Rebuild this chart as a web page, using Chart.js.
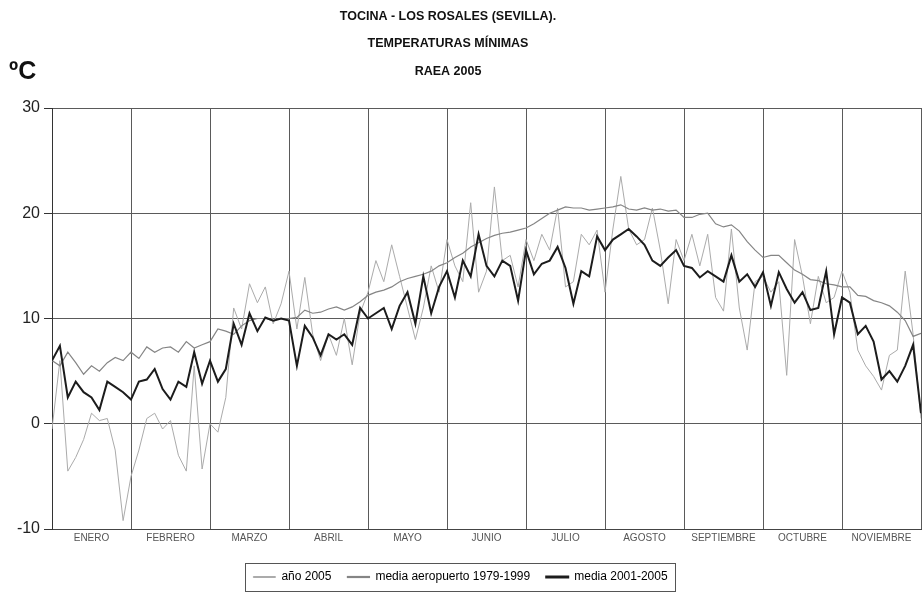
<!DOCTYPE html>
<html lang="es">
<head>
<meta charset="utf-8">
<title>Tocina - Los Rosales. Temperaturas mínimas 2005</title>
<script src="https://cdn.jsdelivr.net/npm/chart.js@4/dist/chart.umd.min.js"></script>
<style>
  html, body { margin: 0; padding: 0; background: #fff; }
  canvas { display: block; }
</style>
</head>
<body>
<canvas id="grafico" width="924" height="601"></canvas>
<script>
// Datos (un valor cada 3 días, 1 enero - 30 noviembre)
const diasPorPunto = 3
const meses = ["ENERO", "FEBRERO", "MARZO", "ABRIL", "MAYO", "JUNIO", "JULIO", "AGOSTO", "SEPTIEMBRE", "OCTUBRE", "NOVIEMBRE"]
const ticksY = [-10, 0, 10, 20, 30]

const anio2005 = [
  -0.5, 6.0, -4.5, -3.2, -1.5, 1.0, 0.3, 0.5, -2.5, -9.2,
  -5.0, -2.5, 0.5, 1.0, -0.5, 0.3, -3.0, -4.5, 5.5, -4.3,
  0.0, -0.8, 2.5, 11.0, 9.0, 13.3, 11.5, 13.0, 9.5, 11.4,
  14.5, 9.0, 13.9, 8.5, 6.0, 8.5, 6.5, 10.0, 5.6, 10.5,
  12.5, 15.5, 13.5, 17.0, 14.0, 11.0, 8.0, 11.0, 15.0, 12.5,
  17.5, 15.0, 13.5, 21.0, 12.5, 14.5, 22.5, 15.5, 16.0, 13.0,
  17.5, 15.5, 18.0, 16.5, 20.5, 13.0, 13.5, 18.0, 17.0, 18.4,
  12.5, 18.5, 23.5, 18.5, 17.0, 17.5, 20.5, 16.5, 11.4, 17.5,
  15.5, 18.0, 15.0, 18.0, 12.0, 10.7, 18.5, 11.0, 7.0, 13.5,
  14.0, 12.5, 13.5, 4.6, 17.5, 14.0, 9.5, 14.0, 11.5, 12.0,
  14.5, 12.5, 7.0, 5.5, 4.5, 3.2, 6.5, 7.0, 14.5, 8.5,
  0.5
]

const mediaAeropuerto = [
  6.0, 5.5, 6.8, 5.8, 4.7, 5.5, 5.0, 5.8, 6.3, 6.0,
  6.8, 6.2, 7.3, 6.8, 7.2, 7.3, 6.8, 7.8, 7.2, 7.5,
  7.8, 9.0, 8.8, 8.5, 9.3, 9.8, 10.0, 10.0, 9.8, 10.0,
  10.0, 10.1, 10.8, 10.5, 10.6, 10.9, 11.1, 10.8, 11.1, 11.6,
  12.2, 12.5, 12.7, 13.0, 13.5, 13.8, 14.0, 14.2, 14.5, 15.0,
  15.3, 15.8, 16.2, 16.8, 17.2, 17.6, 17.9, 18.1, 18.2, 18.4,
  18.6, 19.0, 19.5, 20.0, 20.3, 20.6, 20.5, 20.5, 20.3, 20.4,
  20.5, 20.6, 20.8, 20.4, 20.3, 20.5, 20.3, 20.4, 20.2, 20.3,
  19.6, 19.6, 19.9, 20.0, 19.0, 18.7, 18.9, 18.3, 17.3, 16.5,
  15.8, 16.0, 16.0, 15.3, 14.6, 14.2, 13.7, 13.6, 13.3, 13.2,
  13.0, 13.0, 12.2, 12.1, 11.7, 11.5, 11.2, 10.6, 9.8, 8.3,
  8.6
]

const media2001_2005 = [
  6.0, 7.4, 2.5, 4.0, 3.0, 2.5, 1.3, 4.0, 3.5, 3.0,
  2.3, 4.0, 4.2, 5.2, 3.3, 2.3, 4.0, 3.5, 6.8, 3.8,
  6.0, 4.0, 5.2, 9.5, 7.5, 10.5, 8.8, 10.1, 9.8, 10.0,
  9.8, 5.5, 9.3, 8.2, 6.5, 8.5, 8.0, 8.5, 7.5, 11.0,
  10.0, 10.5, 11.0, 9.0, 11.2, 12.5, 9.5, 14.0, 10.5, 13.0,
  14.5, 12.0, 15.5, 14.0, 18.0, 15.0, 14.0, 15.5, 15.0, 11.7,
  16.5, 14.2, 15.2, 15.5, 16.8, 14.8, 11.4, 14.5, 14.0, 17.8,
  16.5, 17.5, 18.0, 18.5, 17.8, 17.0, 15.5, 15.0, 15.8, 16.5,
  15.0, 14.8, 13.9, 14.5, 14.0, 13.5, 16.0, 13.5, 14.2, 13.0,
  14.4, 11.2, 14.4, 12.8, 11.5, 12.5, 10.8, 11.0, 14.5, 8.5,
  12.0, 11.5, 8.5, 9.3, 7.8, 4.2, 5.0, 4.0, 5.5, 7.5,
  1.0
]

const diasMes = 30

function aPuntos(valores) {
  return valores.map((v, i) => ({ x: i * diasPorPunto, y: v }))
}

// Fondo blanco, títulos y recuadro de la leyenda
const decoracion = {
  id: "decoracion",
  beforeDraw(chart) {
    const ctx = chart.ctx
    ctx.save()
    ctx.fillStyle = "#fff"
    ctx.fillRect(0, 0, chart.width, chart.height)
    ctx.restore()
  },
  afterDraw(chart) {
    const ctx = chart.ctx
    ctx.save()
    ctx.fillStyle = "#111"
    ctx.textAlign = "center"
    ctx.textBaseline = "middle"
    ctx.font = "bold 12.5px 'Liberation Sans', Arial, sans-serif"
    ctx.fillText("TOCINA - LOS ROSALES (SEVILLA).", 448, 17)
    ctx.fillText("TEMPERATURAS MÍNIMAS", 448, 44)
    ctx.fillText("RAEA 2005", 448, 72)
    ctx.textAlign = "left"
    ctx.font = "bold 25px 'Liberation Sans', Arial, sans-serif"
    ctx.fillText("ºC", 9, 72)

    // recuadro de la leyenda
    const cajas = chart.legend.legendHitBoxes
    if (cajas && cajas.length) {
      const izq = Math.min(...cajas.map((c) => c.left)) - 8
      const der = Math.max(...cajas.map((c) => c.left + c.width)) + 8
      const arr = cajas[0].top - 8
      const alto = cajas[0].height + 16
      ctx.strokeStyle = "#555"
      ctx.lineWidth = 1
      ctx.strokeRect(Math.round(izq) + 0.5, Math.round(arr) + 0.5, Math.round(der - izq), Math.round(alto))
    }
    ctx.restore()
  },
}

const ctx = document.getElementById("grafico").getContext("2d")
new Chart(ctx, {
  type: "line",
  data: {
    datasets: [
      {
        label: "año 2005",
        data: aPuntos(anio2005),
        borderColor: "#ababab",
        borderWidth: 1,
        order: 3,
      },
      {
        label: "media aeropuerto 1979-1999",
        data: aPuntos(mediaAeropuerto),
        borderColor: "#858585",
        borderWidth: 1.2,
        order: 2,
      },
      {
        label: "media 2001-2005",
        data: aPuntos(media2001_2005),
        borderColor: "#1c1c1c",
        borderWidth: 2,
        order: 1,
      },
    ],
  },
  options: {
    responsive: false,
    animation: false,
    events: [],
    elements: {
      point: { radius: 0 },
      line: { tension: 0 },
    },
    layout: {
      padding: { top: 108, right: 3, bottom: 8, left: 0 },
    },
    plugins: {
      title: { display: false },
      tooltip: { enabled: false },
      legend: {
        position: "bottom",
        labels: {
          color: "#555",
          font: { family: "'Liberation Sans', Arial, sans-serif", size: 12 },
          boxWidth: 22,
          boxHeight: 1,
          padding: 16,
          sort: (a, b) => a.datasetIndex - b.datasetIndex,
          generateLabels(chart) {
            return chart.data.datasets.map((ds, i) => ({
              text: ds.label,
              fillStyle: ds.borderColor,
              strokeStyle: ds.borderColor,
              lineWidth: ds.borderWidth,
              datasetIndex: i,
            }))
          },
        },
      },
    },
    scales: {
      x: {
        type: "linear",
        min: 0,
        max: meses.length * diasMes,
        afterFit: (scale) => { scale.height = 26 },
        border: { color: "#444" },
        grid: {
          color: (c) => (c.tick && c.tick.value % diasMes === 0 ? "#5a5a5a" : "rgba(0,0,0,0)"),
          drawTicks: false,
        },
        ticks: {
          stepSize: diasMes / 2,
          autoSkip: false,
          maxRotation: 0,
          padding: 3,
          color: "#555",
          font: { family: "'Liberation Sans Narrow', 'Liberation Sans', Arial, sans-serif", size: 10 },
          callback: (v) => (v % diasMes === diasMes / 2 ? meses[(v - diasMes / 2) / diasMes] : ""),
        },
      },
      y: {
        min: ticksY[0],
        max: ticksY[ticksY.length - 1],
        afterFit: (scale) => { scale.width = 52 },
        afterBuildTicks: (scale) => { scale.ticks = ticksY.map((v) => ({ value: v })) },
        border: { color: "#333" },
        grid: { color: "#5a5a5a", tickLength: 8, tickColor: "#333" },
        ticks: {
          color: "#222",
          padding: 4,
          font: { family: "'Liberation Sans', Arial, sans-serif", size: 16 },
        },
      },
    },
  },
  plugins: [decoracion],
})
</script>
</body>
</html>
